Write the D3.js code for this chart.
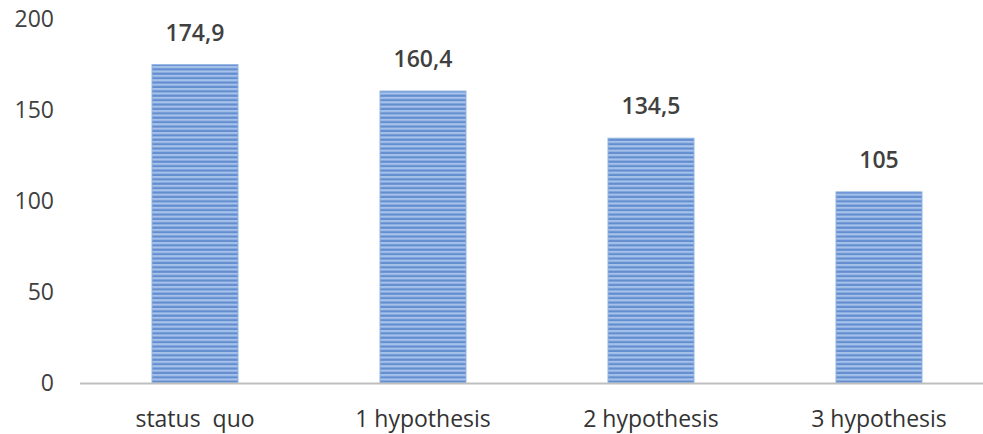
<!DOCTYPE html>
<html>
<head>
<meta charset="utf-8">
<script src="https://cdn.jsdelivr.net/npm/d3@7"></script>
<style>
  html, body { margin: 0; padding: 0; background: #fff; }
  svg { display: block; }
</style>
</head>
<body>
<svg id="chart" width="983" height="434"></svg>
<script>
// Chart data
const categories = ["status  quo", "1 hypothesis", "2 hypothesis", "3 hypothesis"];
const values = [174.9, 160.4, 134.5, 105];
const valueLabels = ["174,9", "160,4", "134,5", "105"];
const yTicks = [0, 50, 100, 150, 200];

const svg = d3.select("#chart");
const font = "'Open Sans', sans-serif";

const x = d3.scaleBand()
  .domain(categories)
  .range([81, 993])
  .paddingInner(0.623)
  .paddingOuter(0.3115);

const y = d3.scaleLinear().domain([0, 200]).range([383, 19]);

// Horizontal stripe fill for the bars
const defs = svg.append("defs");
const pat = defs.append("pattern")
  .attr("id", "stripes")
  .attr("patternUnits", "userSpaceOnUse")
  .attr("width", 8).attr("height", 4.4);
pat.append("rect").attr("width", 8).attr("height", 4.4).attr("fill", "#a6c2ea");
pat.append("rect").attr("y", 2.2).attr("width", 8).attr("height", 2.2).attr("fill", "#628dcf");

// Y axis tick labels (no axis line)
const yAxis = d3.axisLeft(y).tickValues(yTicks).tickSize(0).tickPadding(0);
const gy = svg.append("g").attr("transform", "translate(54,0)").call(yAxis);
gy.select(".domain").remove();
gy.selectAll("text")
  .attr("font-family", font)
  .attr("font-size", 23)
  .attr("fill", "#404040");

// Bars
svg.append("g").selectAll("rect")
  .data(values)
  .join("rect")
  .attr("x", (d, i) => x(categories[i]))
  .attr("y", d => y(d))
  .attr("width", x.bandwidth())
  .attr("height", d => y(0) - y(d))
  .attr("fill", "url(#stripes)")
  .attr("stroke", "#8fb0e0")
  .attr("stroke-width", 1);

// Category axis
const xAxis = d3.axisBottom(x).tickSize(0).tickPadding(28);
const gx = svg.append("g").attr("transform", `translate(0,${y(0)})`).call(xAxis);
gx.select(".domain").remove();
gx.selectAll("text")
  .attr("font-family", font)
  .attr("font-size", 23)
  .attr("fill", "#333333")
  .style("white-space", "pre");

svg.append("line")
  .attr("x1", 80).attr("x2", 983)
  .attr("y1", y(0) + 0.5).attr("y2", y(0) + 0.5)
  .attr("stroke", "#bfbfbf")
  .attr("stroke-width", 2);

// Value labels above bars
svg.append("g").selectAll("text")
  .data(values)
  .join("text")
  .attr("x", (d, i) => x(categories[i]) + x.bandwidth() / 2)
  .attr("y", d => y(d) - 24)
  .attr("text-anchor", "middle")
  .attr("font-family", font)
  .attr("font-size", 23)
  .attr("font-weight", 600)
  .attr("fill", "#404040")
  .text((d, i) => valueLabels[i]);
</script>
</body>
</html>
